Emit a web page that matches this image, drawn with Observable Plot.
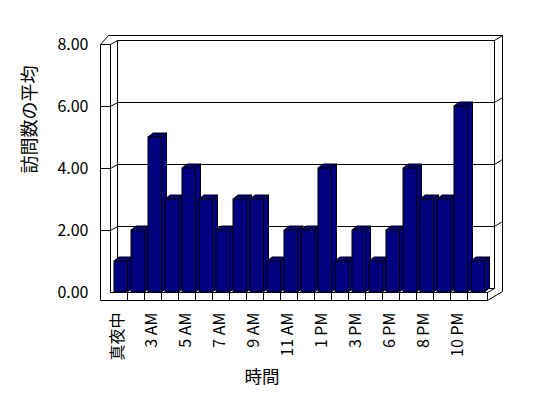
<!DOCTYPE html>
<html><head><meta charset="utf-8">
<script src="https://cdn.jsdelivr.net/npm/d3@7"></script>
<script src="https://cdn.jsdelivr.net/npm/@observablehq/plot@0.6"></script>
<style>
html,body{margin:0;padding:0;background:#fff;}
</style></head><body><div id="chart"></div>
<script>
// ---- data ----
const hours = ["真夜中","1 AM","3 AM","4 AM","5 AM","6 AM","7 AM","8 AM","9 AM","10 AM","11 AM","正午",
               "1 PM","2 PM","3 PM","5 PM","6 PM","7 PM","8 PM","9 PM","10 PM","11 PM"];
const visits = [1,2,5,3,4,3,2,3,3,1,2,2,4,1,2,1,2,4,3,3,6,1];
const tickLabels = ["真夜中","3 AM","5 AM","7 AM","9 AM","11 AM","1 PM","3 PM","6 PM","8 PM","10 PM"];
const yTicks = [0,2,4,6,8];
const yTitle = "訪問数の平均";
const xTitle = "時間";

const data = hours.map((hour, i) => ({hour, value: visits[i]}));

// ---- styling ----
const NAVY = "#000080";
const BAR_DX = 5, BAR_DY = -4;      // bar depth
const INSET_L = 2, INSET_R = 1.5;
const WALL = 10;                     // left wall thickness
const FLOOR = 8;                     // floor thickness
const B1 = [7, -4], B2 = [15, -9];   // back wall front/back plane offsets
const r = Math.round;

function frame3d(index, scales, values, dims) {
  const {x, y} = scales;
  const L = dims.marginLeft, R = dims.width - dims.marginRight;
  const y0 = r(y(0)), yt = r(y(d3.max(yTicks)));
  const bw = x.bandwidth();
  const g = d3.create("svg:g").attr("transform", "translate(0.5,0.5)")
    .attr("fill", "none").attr("stroke", "black").attr("stroke-width", 1);
  // outer silhouette
  g.append("path").attr("fill", "white").attr("d",
    `M${L - WALL},${y0 + FLOOR}V${yt}L${L - 2},${yt + B2[1]}H${r(R) + B2[0]}V${y0 + FLOOR + B2[1]}L${r(R)},${y0 + FLOOR}Z`);
  // back wall edges
  g.append("path").attr("d", `M${L + B1[0]},${yt + B1[1]}V${y0 + B1[1]}`);
  g.append("path").attr("d", `M${r(R) + B1[0]},${yt + B1[1]}V${y0 + B1[1]}`);
  g.append("path").attr("d", `M${L + B1[0]},${y0 + B1[1]}H${r(R) + B1[0]}`);
  // left wall inner edge
  g.append("path").attr("d", `M${L},${y0}V${yt}`);
  // gridlines
  for (const v of yTicks) {
    if (v === 0) continue;
    const yy = r(y(v));
    g.append("path").attr("d",
      `M${L - WALL},${yy}H${L}L${L + B1[0]},${yy + B1[1]}H${r(R) + B1[0]}L${r(R) + B2[0]},${yy + B2[1]}`);
  }
  // floor front face + dividers
  g.append("path").attr("d", `M${L},${y0}H${r(R)}V${y0 + FLOOR}M${r(R)},${y0}L${r(R) + B1[0]},${y0 + B1[1]}`);
  for (let i = 1; i < x.domain().length; i++) {
    const xx = r(L + i * bw);
    g.append("path").attr("d", `M${xx},${y0}V${y0 + FLOOR}`);
  }
  return g.node();
}

function barDepth(index, scales) {
  const {x, y} = scales;
  const bw = x.bandwidth();
  const g = d3.create("svg:g").attr("fill", NAVY).attr("stroke", "black").attr("stroke-width", 1);
  for (const d of data) {
    const x0 = x(d.hour) + INSET_L, x1 = x(d.hour) + bw - INSET_R;
    const yt = y(d.value), yb = y(0);
    g.append("path").attr("d",
      `M${x1},${yb}V${yt}l${BAR_DX},${BAR_DY}V${yb + BAR_DY}Z`);
    g.append("path").attr("d",
      `M${x0},${yt}l${BAR_DX},${BAR_DY}H${x1 + BAR_DX}l${-BAR_DX},${-BAR_DY}Z`);
  }
  return g.node();
}

const chart = Plot.plot({
  width: 548,
  height: 398,
  marginLeft: 110,
  marginRight: 61,
  marginTop: 44,
  marginBottom: 106,
  style: {fontFamily: "'Noto Sans CJK JP', sans-serif", background: "white", color: "black", overflow: "visible"},
  x: {type: "band", domain: hours, padding: 0, axis: null},
  y: {domain: [0, 8], axis: null},
  marks: [
    frame3d,
    barDepth,
    Plot.barY(data, {x: "hour", y: "value", fill: NAVY, stroke: "black", strokeWidth: 1,
                     insetLeft: INSET_L, insetRight: INSET_R}),
    Plot.text(yTicks, {y: d => d, text: d => d.toFixed(2), frameAnchor: "left",
                       textAnchor: "end", lineAnchor: "middle", dx: -22, fontSize: 16, fill: "black"}),
    Plot.text(tickLabels, {x: d => d, text: d => d, frameAnchor: "bottom", rotate: -90,
                           textAnchor: "end", lineAnchor: "middle", dx: -3, dy: 20, fontSize: 16, fill: "black"}),
    Plot.text([yTitle], {frameAnchor: "left", rotate: -90, lineAnchor: "middle",
                         dx: -80, dy: 5, fontSize: 18, fill: "black"}),
    Plot.text([xTitle], {frameAnchor: "bottom", lineAnchor: "middle",
                         dx: -37, dy: 85, fontSize: 17.5, fill: "black"})
  ]
});
document.getElementById("chart").appendChild(chart);
</script>
</body></html>
